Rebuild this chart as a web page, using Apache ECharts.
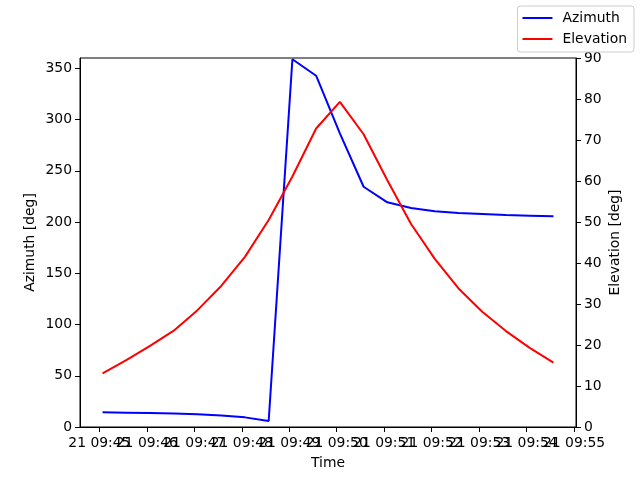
<!DOCTYPE html>
<html>
<head>
<meta charset="utf-8">
<script src="https://cdn.jsdelivr.net/npm/echarts@6/dist/echarts.min.js"></script>
<style>html,body{margin:0;padding:0;background:#fff}#c{width:640px;height:480px}</style>
</head>
<body>
<div id="c"></div>
<script>
// ---- data ----
const times = ['09:45:04','09:45:34','09:46:04','09:46:34','09:47:04','09:47:34','09:48:04','09:48:34','09:49:04','09:49:34',
               '09:50:04','09:50:34','09:51:04','09:51:34','09:52:04','09:52:34','09:53:04','09:53:34','09:54:04','09:54:34'];
const azimuth = [14.3, 14.0, 13.6, 13.1, 12.4, 11.3, 9.4, 5.9, 358.8, 342.7,
                 286.5, 234.4, 219.2, 213.6, 210.4, 208.8, 207.8, 206.8, 206.2, 205.5];
const elevation = [13.1, 16.3, 19.8, 23.5, 28.5, 34.4, 41.5, 50.5, 61.1, 72.8,
                   79.3, 71.4, 60.2, 49.5, 41.0, 33.8, 28.1, 23.4, 19.3, 15.7];
const dayLabel = '21';
const xTickLabels = ['09:45','09:46','09:47','09:48','09:49','09:50','09:51','09:52','09:53','09:54','09:55'];
const azTicks = [0, 50, 100, 150, 200, 250, 300, 350];
const elTicks = [0, 10, 20, 30, 40, 50, 60, 70, 80, 90];

// ---- helpers ----
function toSec(s){ const p = s.split(':').map(Number); return p[0]*3600 + p[1]*60 + (p[2]||0); }
function pad(n){ return (n<10?'0':'') + n; }
const tSec = times.map(toSec);
const span = tSec[tSec.length-1] - tSec[0];
const xMin = tSec[0] - 0.05*span, xMax = tSec[tSec.length-1] + 0.05*span;
const xTickVals = xTickLabels.map(toSec);
// empty guard labels at the axis ends so the real end labels are never auto-hidden
const xLabelVals = [xMin].concat(xTickVals, [xMax]);

const FONT = 'DejaVu Sans';
const FS = 13.9;
const chart = echarts.init(document.getElementById('c'), null, {renderer: 'canvas'});
chart.setOption({
  animation: false,
  backgroundColor: '#fff',
  textStyle: {fontFamily: FONT},
  grid: {left: 80, right: 64, top: 58, bottom: 53, show: true, borderColor: '#000', borderWidth: 1, backgroundColor: 'transparent'},
  legend: {
    orient: 'vertical', right: 6, top: 6,
    padding: [5, 7, 6, 5], itemGap: 7,
    itemWidth: 30, itemHeight: 2, icon: 'rect',
    borderColor: '#cccccc', borderWidth: 1, borderRadius: 3, backgroundColor: 'rgba(255,255,255,0.8)',
    textStyle: {fontFamily: FONT, fontSize: FS, color: '#000', padding: [0,0,0,5]},
    data: ['Azimuth', 'Elevation']
  },
  xAxis: {
    type: 'value', min: xMin, max: xMax,
    name: 'Time', nameLocation: 'middle', nameGap: 29,
    nameTextStyle: {fontFamily: FONT, fontSize: FS, color: '#000'},
    axisLine: {show: true, lineStyle: {color: '#000', width: 1}},
    axisTick: {show: true, length: 5, lineStyle: {color: '#000', width: 1}, customValues: xTickVals},
    axisLabel: {show: true, margin: 9, fontFamily: FONT, fontSize: FS, color: '#000', hideOverlap: false,
      customValues: xLabelVals,
      formatter: v => {
        if (v % 60 !== 0) return '';
        const h = Math.floor(v/3600), m = Math.floor((v%3600)/60);
        return dayLabel + ' ' + pad(h) + ':' + pad(m);
      }},
    splitLine: {show: false}
  },
  yAxis: [{
    type: 'value', min: 0, max: 360, position: 'left',
    name: 'Azimuth [deg]', nameLocation: 'middle', nameGap: 43, nameRotate: 90, nameMoveOverlap: false,
    nameTextStyle: {fontFamily: FONT, fontSize: FS, color: '#000'},
    axisLine: {show: true, lineStyle: {color: '#000', width: 1}},
    axisTick: {show: true, length: 5, lineStyle: {color: '#000', width: 1}, customValues: azTicks},
    axisLabel: {margin: 8, fontFamily: FONT, fontSize: FS, color: '#000', customValues: azTicks, showMinLabel: true},
    splitLine: {show: false}
  }, {
    type: 'value', min: 0, max: 90, interval: 10, position: 'right',
    name: 'Elevation [deg]', nameLocation: 'middle', nameGap: 32, nameRotate: 90, nameMoveOverlap: false,
    nameTextStyle: {fontFamily: FONT, fontSize: FS, color: '#000'},
    axisLine: {show: true, lineStyle: {color: '#000', width: 1}},
    axisTick: {show: true, length: 5, lineStyle: {color: '#000', width: 1}, customValues: elTicks},
    axisLabel: {margin: 8, fontFamily: FONT, fontSize: FS, color: '#000', customValues: elTicks, showMinLabel: true, showMaxLabel: true},
    splitLine: {show: false}
  }],
  series: [{
    name: 'Azimuth', type: 'line', yAxisIndex: 0, symbol: 'none',
    color: '#0000ff', lineStyle: {color: '#0000ff', width: 2},
    data: tSec.map((t, i) => [t, azimuth[i]])
  }, {
    name: 'Elevation', type: 'line', yAxisIndex: 1, symbol: 'none',
    color: '#ff0000', lineStyle: {color: '#ff0000', width: 2},
    data: tSec.map((t, i) => [t, elevation[i]])
  }]
});
</script>
</body>
</html>
